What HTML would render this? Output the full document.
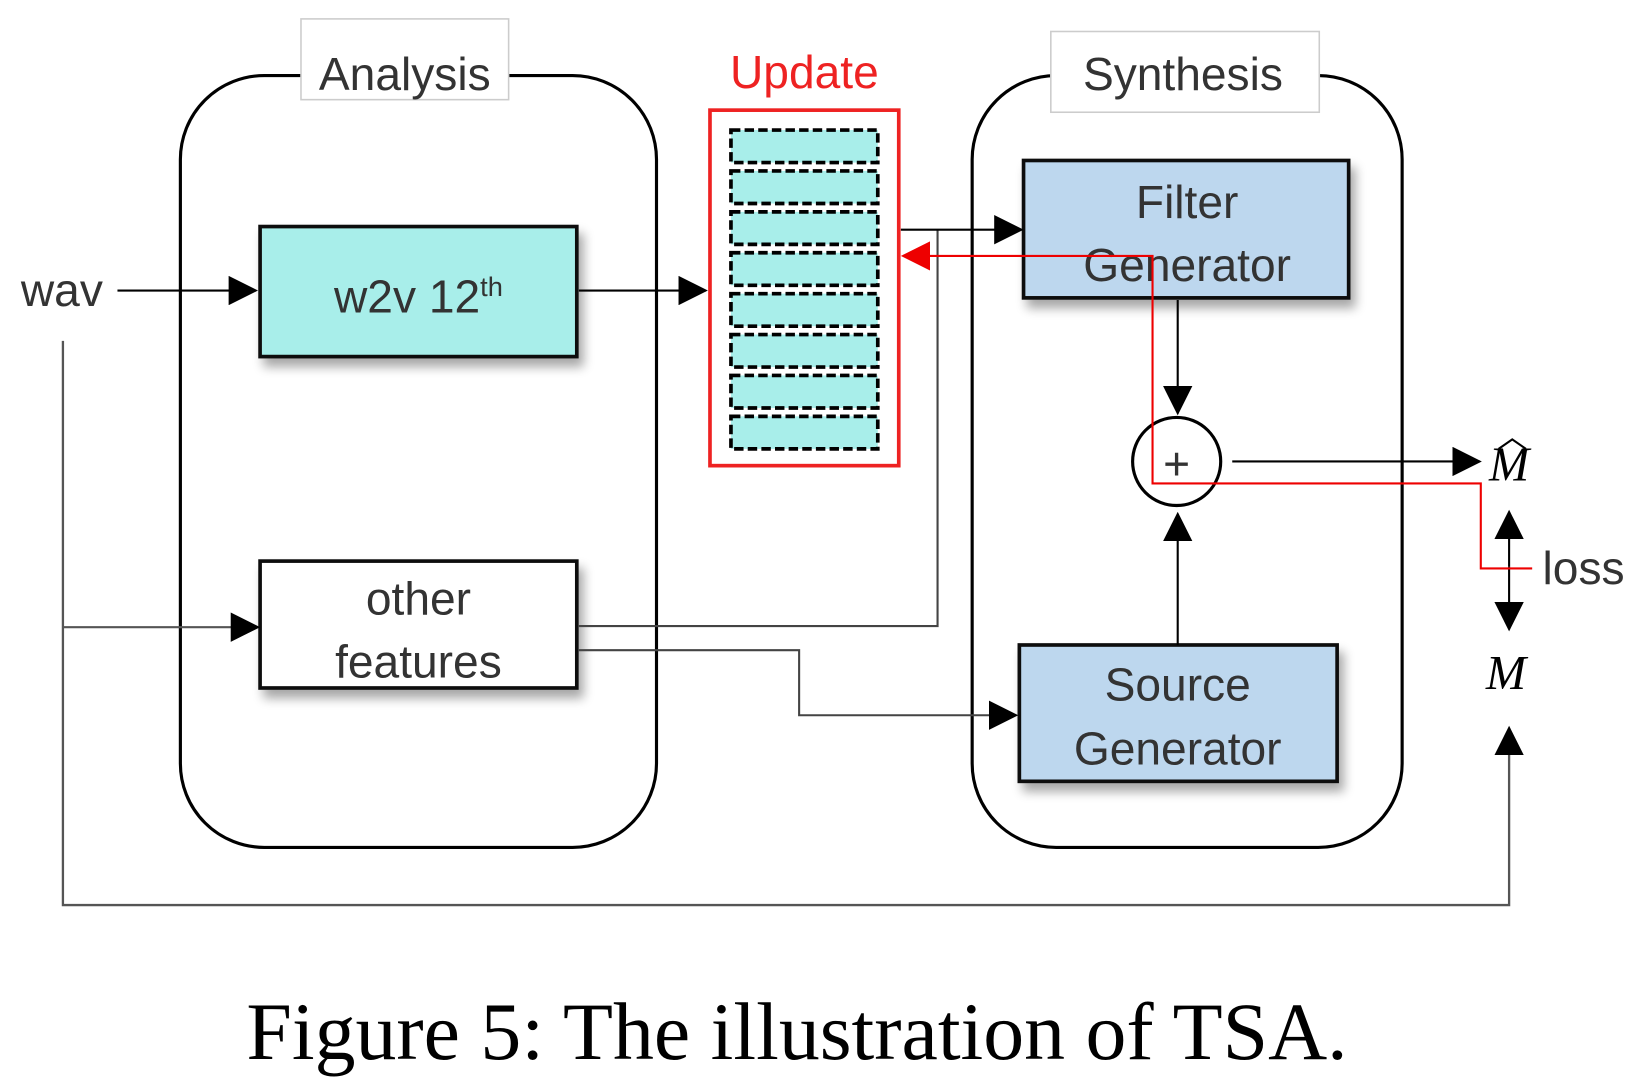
<!DOCTYPE html>
<html><head><meta charset="utf-8"><style>
html,body{margin:0;padding:0;background:#fff;}
svg{display:block;}
.t{font-family:"Liberation Sans",sans-serif;fill:#333;font-size:44px;text-anchor:middle;}
</style></head><body>
<svg width="1636" height="1086" viewBox="0 0 1560 1035.5" xmlns="http://www.w3.org/2000/svg">
<defs>
<marker id="ab" markerWidth="28" markerHeight="28" refX="26" refY="14" orient="auto" markerUnits="userSpaceOnUse" viewBox="0 0 28 28"><path d="M0,0 L28,14 L0,28z" fill="#000"/></marker>
<marker id="ar" markerWidth="28" markerHeight="28" refX="26" refY="14" orient="auto" markerUnits="userSpaceOnUse" viewBox="0 0 28 28"><path d="M0,0 L28,14 L0,28z" fill="#e00"/></marker>
<filter id="sh" x="-10%" y="-10%" width="130%" height="140%"><feGaussianBlur in="SourceAlpha" stdDeviation="5"/><feOffset dx="5" dy="8"/><feComponentTransfer><feFuncA type="linear" slope="0.35"/></feComponentTransfer><feMerge><feMergeNode/><feMergeNode in="SourceGraphic"/></feMerge></filter>
</defs>
<g transform="translate(-1,0)">
<rect x="173" y="72" width="454" height="736" rx="80" fill="none" stroke="#000" stroke-width="3"/>
<rect x="928" y="72" width="410" height="736" rx="80" fill="none" stroke="#000" stroke-width="3"/>
<rect x="288" y="18" width="198" height="77" fill="#fff" stroke="#ccc" stroke-width="1.5"/>
<text class="t" x="387" y="86">Analysis</text>
<rect x="1003" y="30" width="256" height="77" fill="#fff" stroke="#ccc" stroke-width="1.5"/>
<text class="t" x="1129" y="86">Synthesis</text>
<text class="t" x="768" y="84" style="fill:#e22">Update</text>
<rect x="249" y="216" width="302" height="124" fill="#a8eeea" stroke="#111" stroke-width="3.5" filter="url(#sh)"/>
<text class="t" x="400" y="298">w2v 12<tspan dy="-16" font-size="26">th</tspan></text>
<rect x="249" y="535" width="302" height="121" fill="#fff" stroke="#111" stroke-width="3.5" filter="url(#sh)"/>
<text class="t" x="400" y="586">other</text>
<text class="t" x="400" y="646">features</text>
<rect x="977" y="153" width="310" height="131" fill="#bdd7ee" stroke="#111" stroke-width="3.5" filter="url(#sh)"/>
<text class="t" x="1133" y="208">Filter</text>
<text class="t" x="1133" y="268">Generator</text>
<rect x="973" y="615" width="303" height="130" fill="#bdd7ee" stroke="#111" stroke-width="3.5" filter="url(#sh)"/>
<text class="t" x="1124" y="668">Source</text>
<text class="t" x="1124" y="729">Generator</text>
<rect x="678" y="105" width="180" height="339" fill="#fff" stroke="#e22" stroke-width="3.5"/>
<g fill="#a8eeea" stroke="#000" stroke-width="3.5" stroke-dasharray="9,4">
<rect x="698" y="124" width="140" height="31"/><rect x="698" y="163" width="140" height="31"/>
<rect x="698" y="202" width="140" height="31"/><rect x="698" y="241" width="140" height="31"/>
<rect x="698" y="280" width="140" height="31"/><rect x="698" y="319" width="140" height="31"/>
<rect x="698" y="358" width="140" height="31"/><rect x="698" y="397" width="140" height="31"/>
</g>
<text class="t" x="60" y="292">wav</text>
<g stroke="#000" stroke-width="2" fill="none">
<line x1="113" y1="277" x2="245" y2="277" marker-end="url(#ab)"/>
<line x1="553" y1="277" x2="674" y2="277" marker-end="url(#ab)"/>
<polyline points="61,325 61,863 1440,863 1440,694" marker-end="url(#ab)" stroke-width="2.2" stroke="#555"/>
<line x1="61" y1="598" x2="247" y2="598" marker-end="url(#ab)" stroke="#555"/>
<polyline points="553,597 895,597 895,219" stroke="#444"/>
<line x1="860" y1="219" x2="975" y2="219" marker-end="url(#ab)"/>
<polyline points="553,620 763,620 763,682 970,682" stroke="#444" marker-end="url(#ab)"/>
<line x1="1124" y1="286" x2="1124" y2="394" marker-end="url(#ab)"/>
<line x1="1124" y1="615" x2="1124" y2="490" marker-end="url(#ab)"/>
<line x1="1176" y1="440" x2="1412" y2="440" marker-end="url(#ab)"/>
<line x1="1440" y1="540" x2="1440" y2="488" marker-end="url(#ab)"/>
<line x1="1440" y1="540" x2="1440" y2="600" marker-end="url(#ab)"/>
</g>
<circle cx="1123" cy="440" r="42" fill="none" stroke="#000" stroke-width="3"/>
<text class="t" x="1123" y="457" style="font-size:44px">+</text>
<polyline points="1462,542 1413,542 1413,461 1100,461 1100,244 862,244" fill="none" stroke="#e00" stroke-width="2" marker-end="url(#ar)"/>
<text x="1440" y="458" font-family="Liberation Serif,serif" font-style="italic" font-size="46" text-anchor="middle">M</text>
<path d="M1430,428 L1443,419 L1456,428" fill="none" stroke="#000" stroke-width="2"/>
<text x="1437" y="657" font-family="Liberation Serif,serif" font-style="italic" font-size="46" text-anchor="middle">M</text>
<text class="t" x="1511" y="557">loss</text>
</g>
<text x="760" y="1010" font-family="Liberation Serif,serif" font-size="78" text-anchor="middle" fill="#000">Figure 5: The illustration of TSA.</text>
</svg>
</body></html>
